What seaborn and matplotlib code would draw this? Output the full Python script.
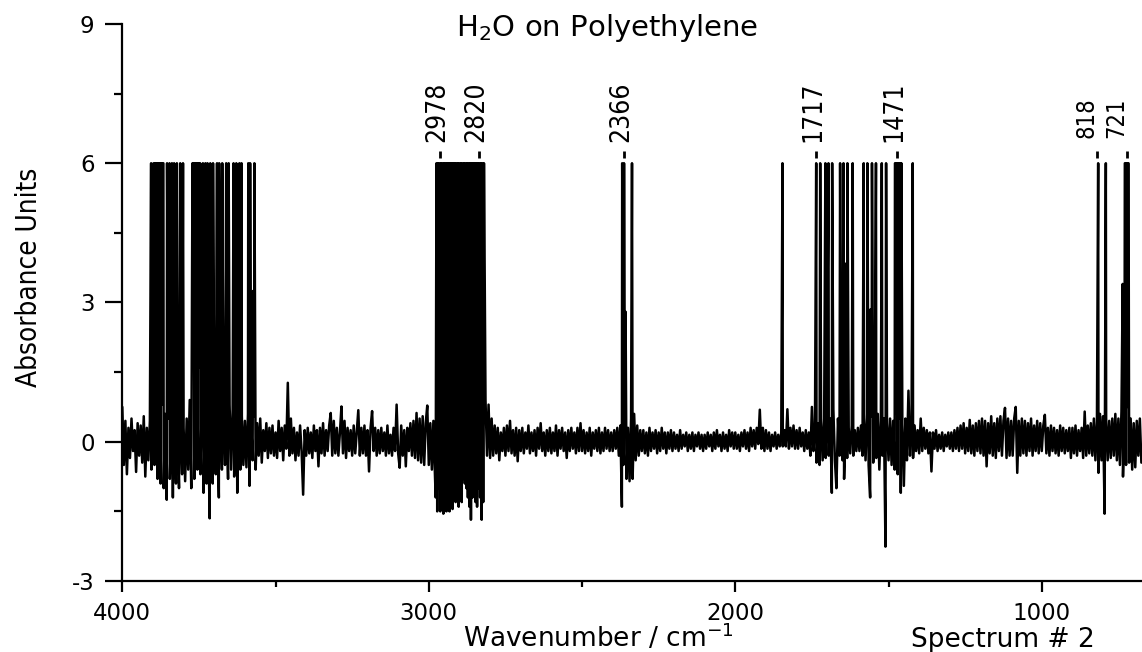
"""H2O on polyethylene IR spectrum (Spectrum # 2), redrawn with seaborn."""
import numpy as np
import pandas as pd
import seaborn as sns
from matplotlib import pyplot as plt

# spectrum, one value every 5 cm-1 from 4000 cm-1 down
grid_start = 4000  # cm-1
grid_step = 5  # cm-1
baseline = [
    # 4000 - 3905
    0.75, -0.5, 0.45, -0.7, 0.3, -0.35, 0.5, -0.2, 0.25, -0.65, 0.4, -0.3, 0.35, -0.45, 0.55, -0.75, 0.3, -0.4, 0.45, -0.6,
    # 3900 - 3805
    1.3, -0.5, 1.5, -0.8, 1.0, -0.9, 0.8, -1.0, 0.6, -1.25, 0.5, -0.8, 0.35, -1.2, 0.4, -0.9, 0.3, -1.0, 0.45, -0.7,
    # 3800 - 3705
    0.3, -0.85, 0.5, -0.6, 0.9, -1.0, 1.8, -0.8, 2.3, -0.6, 1.6, -0.7, 1.2, -1.1, 0.7, -0.9, 0.5, -1.65, 0.4, -0.9,
    # 3700 - 3605
    0.5, -0.7, 0.6, -1.2, 0.8, -0.6, 0.7, -0.5, 0.9, -0.8, 0.8, -0.6, 0.7, -0.75, 0.6, -1.1, 0.5, -0.6, 0.55, -0.5,
    # 3600 - 3505
    0.45, -0.55, 0.6, -0.95, 0.5, -0.4, 0.55, -0.6, 0.4, -0.3, 0.5, -0.45, 0.25, -0.2, 0.4, -0.35, 0.3, -0.25, 0.35, -0.3,
    # 3500 - 3405
    0.2, -0.35, 0.45, -0.2, 0.3, -0.4, 0.35, -0.15, 1.27, -0.3, 0.5, -0.25, 0.3, -0.4, 0.2, -0.3, 0.35, -0.2, -1.14, 0.25,
    # 3400 - 3305
    -0.3, 0.3, -0.25, 0.2, -0.35, 0.35, -0.2, 0.25, -0.53, 0.3, -0.25, 0.4, -0.3, 0.25, -0.2, 0.35, 0.62, -0.3, 0.45, -0.25,
    # 3300 - 3205
    0.3, -0.3, 0.2, 0.76, -0.25, 0.45, -0.35, 0.3, -0.2, 0.25, -0.3, 0.35, -0.25, 0.2, 0.68, -0.3, 0.3, -0.25, 0.35, -0.3,
    # 3200 - 3105
    0.25, -0.64, 0.3, 0.66, -0.2, 0.3, -0.3, 0.25, -0.25, 0.3, -0.2, 0.2, -0.3, 0.35, -0.25, 0.15, -0.3, 0.3, -0.2, 0.8,
    # 3100 - 3005
    -0.25, -0.56, 0.35, -0.3, 0.25, -0.53, 0.3, -0.2, 0.4, -0.3, 0.45, -0.35, 0.62, -0.4, 0.5, -0.45, 0.55, -0.5, 0.4, 0.78,
    # 3000 - 2905
    -0.5, 0.4, -0.6, 0.45, -0.7, 6, 6, 6, 6, 6, 6, 6, 6, 6, 6, 6, 6, 6, 6, 6,
    # 2900 - 2805
    6, 6, 6, 6, 6, 6, 6, 6, 6, 6, 6, 6, 6, 6, 6, 6, 6, 0.9, -0.3, 0.8,
    # 2800 - 2705
    -0.35, 0.5, -0.3, 0.35, -0.25, 0.3, -0.4, 0.2, -0.2, 0.3, -0.3, 0.35, -0.2, 0.45, -0.25, 0.25, -0.3, 0.3, -0.42, 0.25,
    # 2700 - 2605
    -0.2, 0.3, -0.25, 0.2, -0.15, 0.35, -0.25, 0.2, -0.2, 0.25, -0.3, 0.3, -0.15, 0.4, -0.2, 0.2, -0.3, 0.25, -0.2, 0.3,
    # 2600 - 2505
    -0.25, 0.2, -0.2, 0.35, -0.3, 0.25, -0.15, 0.3, -0.2, 0.2, -0.35, 0.25, -0.2, 0.3, -0.15, 0.2, -0.25, 0.3, -0.2, 0.4,
    # 2500 - 2405
    -0.2, 0.25, -0.25, 0.2, -0.2, 0.3, -0.3, 0.2, -0.15, 0.25, -0.2, 0.3, -0.25, 0.2, -0.2, 0.3, -0.15, 0.25, -0.2, 0.2,
    # 2400 - 2305
    -0.2, 0.25, -0.15, 0.3, -0.3, 0.35, -1.4, -0.5, 0.4, -0.8, 0.3, -0.85, 0.5, -0.8, 0.6, -0.4, 0.35, -0.3, 0.25, -0.2,
    # 2300 - 2205
    0.25, -0.25, 0.2, -0.3, 0.3, -0.2, 0.2, -0.15, 0.25, -0.25, 0.2, -0.2, 0.3, -0.15, 0.2, -0.25, 0.2, -0.15, 0.25, -0.2,
    # 2200 - 2105
    0.2, -0.15, 0.15, -0.2, 0.25, -0.15, 0.15, -0.1, 0.2, -0.2, 0.15, -0.15, 0.2, -0.2, 0.15, -0.1, 0.2, -0.15, 0.15, -0.2,
    # 2100 - 2005
    0.15, -0.15, 0.2, -0.1, 0.15, -0.2, 0.2, -0.15, 0.25, -0.1, 0.15, -0.2, 0.2, -0.15, 0.15, -0.2, 0.25, -0.1, 0.2, -0.15,
    # 2000 - 1905
    0.2, -0.15, 0.15, -0.2, 0.2, -0.1, 0.25, -0.15, 0.2, -0.2, 0.3, -0.1, 0.25, -0.15, 0.3, -0.05, 0.69, -0.15, 0.3, -0.2,
    # 1900 - 1805
    0.25, -0.15, 0.2, -0.2, 0.15, -0.1, 0.2, -0.15, 0.15, -0.1, 0.2, -0.1, 0.25, -0.1, 0.7, -0.15, 0.3, -0.1, 0.35, -0.15,
    # 1800 - 1705
    0.25, -0.15, 0.3, -0.1, 0.2, -0.2, 0.25, -0.15, 0.2, -0.3, 0.75, -0.2, 0.3, -0.45, 0.4, -0.5, 0.45, -0.4, 0.5, -0.35,
    # 1700 - 1605
    0.6, -0.3, 0.5, -1.1, 0.7, -0.4, -1.0, 0.5, -0.3, 0.6, -0.4, -0.8, 0.4, -0.35, 0.3, -0.25, 0.35, -0.3, 0.25, -0.2,
    # 1600 - 1505
    0.3, -0.2, 0.35, -0.3, 0.5, -0.4, 0.6, -0.5, -1.2, 0.55, -0.45, 0.5, -0.35, 0.6, -0.6, 0.45, -0.3, 0.5, -2.26, 0.4,
    # 1500 - 1405
    -0.4, 0.5, -0.5, 0.45, -0.6, 0.6, -0.7, 0.5, -1.1, 0.4, -0.95, 0.5, -0.4, 1.1, -0.3, 0.3, -0.35, 0.35, -0.2, 0.25,
    # 1400 - 1305
    -0.25, 0.5, -0.2, 0.3, -0.15, 0.25, -0.25, 0.2, -0.64, 0.2, -0.15, 0.25, -0.2, 0.15, -0.15, 0.2, -0.2, 0.15, -0.1, 0.2,
    # 1300 - 1205
    -0.15, 0.2, -0.2, 0.25, -0.15, 0.3, -0.2, 0.35, -0.15, 0.4, -0.25, 0.3, -0.2, 0.47, -0.25, 0.35, -0.3, 0.4, -0.2, 0.45,
    # 1200 - 1105
    -0.25, 0.5, -0.3, 0.45, -0.53, 0.4, -0.25, 0.55, -0.3, 0.4, -0.35, 0.5, -0.2, 0.55, -0.3, 0.45, 0.73, -0.35, 0.5, -0.3,
    # 1100 - 1005
    0.45, -0.3, 0.5, 0.75, -0.67, 0.45, -0.3, 0.5, -0.25, 0.45, -0.3, 0.4, -0.2, 0.5, -0.3, 0.35, -0.2, 0.45, -0.25, 0.4,
    # 1000 - 905
    -0.2, 0.35, 0.58, -0.25, 0.3, -0.3, 0.35, -0.2, 0.3, -0.25, 0.25, -0.3, 0.35, -0.2, 0.3, -0.25, 0.25, -0.2, 0.3, -0.35,
    # 900 - 805
    0.3, -0.25, 0.35, -0.3, 0.25, -0.2, 0.3, -0.35, 0.65, -0.3, 0.35, -0.25, 0.4, -0.3, 0.5, -0.4, 0.45, -0.67, 0.6, -0.4,
    # 800 - 705
    0.55, -1.55, 0.5, -0.4, 0.45, -0.35, 0.5, -0.3, 0.6, -0.4, 0.5, -0.5, 0.65, -0.75, 0.7, -0.5, 0.75, -0.45, 0.5, -0.6,
    # 700 - 675
    0.4, -0.55, 0.45, -0.3, 0.5, -0.45,
]

# bands that run off scale (detector saturates at 6 absorbance units)
sat_level = 6.0
sat_wn = [
    3906, 3898, 3893, 3891, 3888, 3886, 3883, 3881, 3878, 3876, 3873, 3871, 3868, 3866,
    3854, 3846, 3838, 3831, 3822, 3811, 3802,
    3771, 3768, 3766, 3763, 3761, 3758, 3756, 3753, 3751, 3748, 3746,
    3737, 3729, 3722, 3713, 3704, 3691, 3684, 3674, 3661, 3653, 3637, 3628, 3618, 3611,
    3589, 3583, 3569,
    2369, 2363, 2337,
    1846,
    1736, 1723, 1706, 1696, 1684, 1658, 1647, 1634, 1617, 1581, 1569, 1554, 1541, 1522, 1508,
    1479, 1476, 1474, 1471, 1469, 1466, 1463, 1461, 1458, 1421,
    816, 791, 729, 727, 724, 722, 719, 717,
]

# downward dips inside the saturated 2978-2820 CH stretch block
block_wn = [
    2977.5, 2972.5, 2967.5, 2962.5, 2957.5, 2952.5, 2947.5, 2942.5, 2937.5, 2932.5,
    2927.5, 2922.5, 2917.5, 2912.5, 2907.5, 2902.5, 2897.5, 2892.5, 2887.5, 2882.5,
    2877.5, 2872.5, 2867.5, 2862.5, 2857.5, 2852.5, 2847.5, 2842.5, 2837.5, 2832.5,
    2827.5, 2822.5,
]
block_abs = [
    -1.2, -1.5, -1.0, -1.5, -1.3, -1.55, -1.1, -1.5, -1.4, -1.5,
    -1.2, -1.45, -1.0, -1.3, -0.9, -1.4, -1.1, -1.3, -0.8, -0.9,
    -1.0, -1.2, -1.4, -1.68, -1.2, -1.1, -1.3, -1.4, -1.0, -1.2,
    -1.68, -1.3,
]

# lines that stop short of the saturation level
partial_wn = [3762, 3681, 3621, 3573, 2826, 2358, 1699, 1637, 1559, 736]
partial_abs = [2.3, 3.5, 2.45, 3.25, 2.6, 2.8, 3.1, 3.85, 2.85, 3.4]

# peak picks printed above the spectrum
peak_labels = ["2978", "2820", "2366", "1717", "1471", "818", "721"]
peak_pos = [2963, 2836, 2363, 1736, 1473, 820, 722]

wn_grid = grid_start - grid_step * np.arange(len(baseline))
spec = pd.DataFrame({
    "wavenumber": np.concatenate([wn_grid, sat_wn, block_wn, partial_wn]),
    "absorbance": np.concatenate([baseline, np.full(len(sat_wn), sat_level),
                                  block_abs, partial_abs]),
})

# global settings
sns.set_style("ticks")
plt.rcParams.update({
    "font.family": ["DejaVu Sans"],
    "axes.unicode_minus": False,
    "text.color": "black",
    "axes.edgecolor": "black",
    "xtick.color": "black",
    "ytick.color": "black",
})
narrow = dict(family=["DejaVu Sans"], fontstretch="condensed")

fig = plt.figure(figsize=(11.42, 6.52), dpi=100)
ax = fig.add_axes([0.1071, 0.1089, 0.8929, 0.8543])

sns.lineplot(ax=ax, data=spec, x="wavenumber", y="absorbance", estimator=None,
             sort=True, color="black", linewidth=1.8)

ax.set_xlim(4000, 673)
ax.set_ylim(-3, 9)
ax.set_xticks([4000, 3000, 2000, 1000])
ax.set_xticks([3500, 2500, 1500], minor=True)
ax.set_yticks([-3, 0, 3, 6, 9])
ax.set_yticks([-1.5, 1.5, 4.5, 7.5], minor=True)
ax.set_xlabel("")
ax.set_ylabel("")
sns.despine(ax=ax)
for side in ["left", "bottom"]:
    ax.spines[side].set_linewidth(1.6)
ax.tick_params(axis="x", which="major", length=8, width=1.6, pad=7, labelsize=16.5)
ax.tick_params(axis="x", which="minor", length=4.5, width=1.6)
ax.tick_params(axis="y", which="major", length=12, width=1.6, pad=8, labelsize=16.5)
ax.tick_params(axis="y", which="minor", length=6, width=1.6)

# peak picks: short tick above the band plus vertical label
for lab, pos in zip(peak_labels, peak_pos):
    ax.vlines(pos, 6.11, 6.27, color="black", linewidth=2)
    if len(lab) == 3:
        ax.annotate(lab, (pos, 6.55), xytext=(1, 0), textcoords="offset points",
                    rotation=90, ha="right", va="bottom", fontsize=17, **narrow)
    else:
        ax.annotate(lab, (pos, 6.45), xytext=(-2, 0), textcoords="offset points",
                    rotation=90, ha="center", va="bottom", fontsize=19, **narrow)

fig.text(607 / 1142, 1 - 36 / 652, r"H$_2$O on Polyethylene", ha="center",
         va="baseline", fontsize=21)
fig.text(29 / 1142, 1 - 277 / 652, "Absorbance Units", rotation=90, ha="center",
         va="center", fontsize=20, **narrow)
fig.text(598 / 1142, 1 - 647 / 652, r"Wavenumber / cm$^{-1}$", ha="center",
         va="baseline", fontsize=19)
fig.text(1003 / 1142, 1 - 647 / 652, "Spectrum # 2", ha="center", va="baseline",
         fontsize=19)

fig.savefig("out.png", dpi=100)
